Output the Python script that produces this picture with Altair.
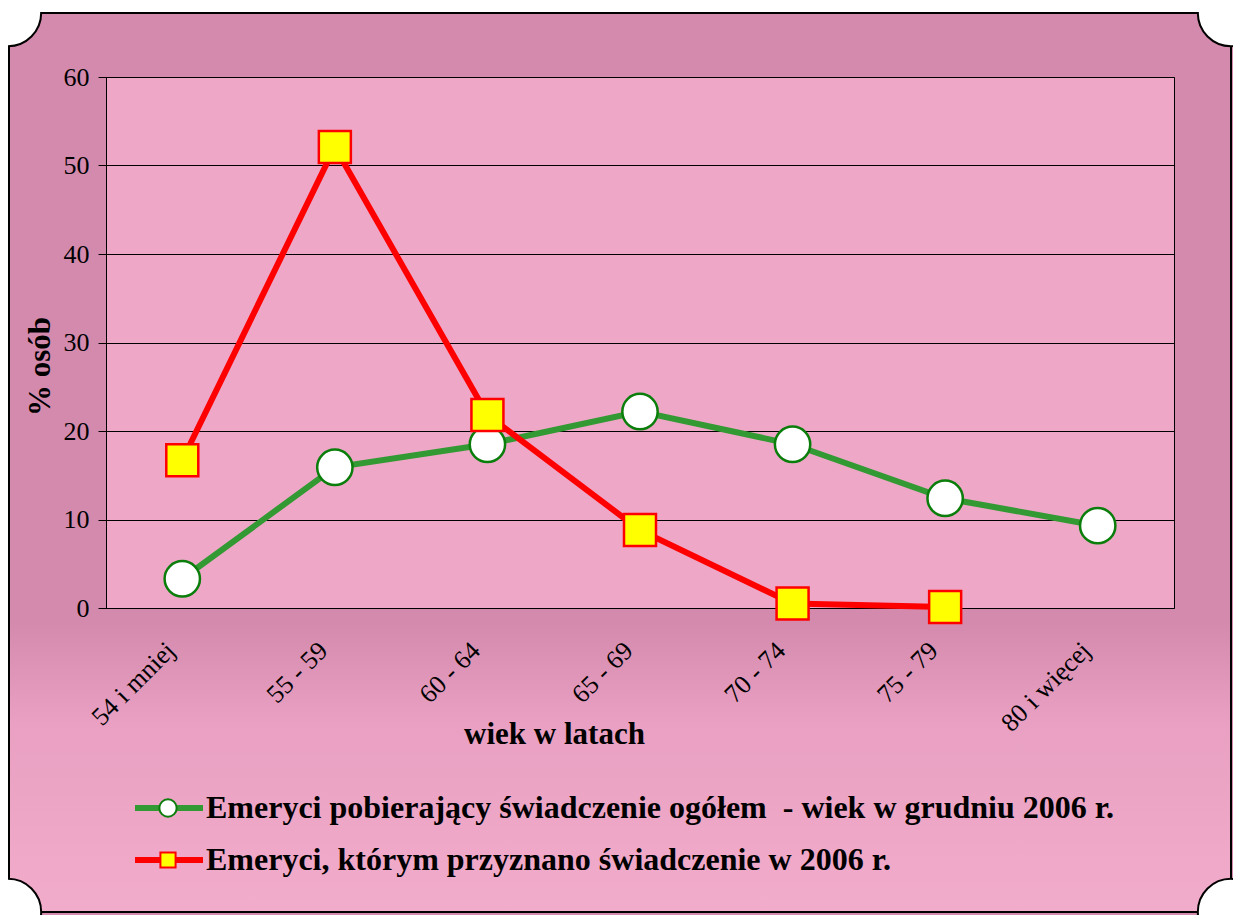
import altair as alt
import pandas as pd

# ---- data ----
categories = ["54 i mniej", "55 - 59", "60 - 64", "65 - 69", "70 - 74", "75 - 79", "80 i więcej"]
ogolem = [3.3, 15.9, 18.5, 22.2, 18.5, 12.4, 9.3]
przyznano = [16.7, 52.1, 21.8, 8.8, 0.5, 0.1, None]
series_labels = [
    "Emeryci pobierający świadczenie ogółem\u00a0 - wiek w grudniu 2006 r.",
    "Emeryci, którym przyznano świadczenie w 2006 r.",
]
series_keys = ["ogolem", "przyznano"]
y_ticks = [0, 10, 20, 30, 40, 50, 60]

rows = []
for c, v in zip(categories, ogolem):
    rows.append({"wiek": c, "proc": v, "seria": "ogolem"})
for c, v in zip(categories, przyznano):
    if v is not None:
        rows.append({"wiek": c, "proc": v, "seria": "przyznano"})
df = pd.DataFrame(rows)
legend_df = pd.DataFrame({"seria": series_keys, "label": series_labels})
one = pd.DataFrame({"k": [0]})

FONT = "Liberation Serif"
W, H = 1068, 531
PL, PT, PR, PB = 98, 69, 59, 307
BG = "#d48aad"

GREEN = "#339933"
GREEN_EDGE = "#0a7d0a"
RED = "#ff0000"
YELLOW = "#ffff00"

x_axis = alt.Axis(
    title="wiek w latach", labelAngle=-45, ticks=False, domain=False, zindex=1,
    labelFont=FONT, labelFontSize=26, labelColor="black", labelPadding=29, labelOffset=-21,
    titleFont=FONT, titleFontSize=31, titleFontWeight="bold", titleColor="black",
    titleX=448, titleY=126, titleAlign="center", titleBaseline="middle",
)
y_axis = alt.Axis(
    title="% osób", values=y_ticks, grid=True, gridColor="black", gridWidth=1,
    tickColor="black", tickSize=8, domainColor="black",
    labelFont=FONT, labelFontSize=26, labelColor="black", labelPadding=9,
    titleFont=FONT, titleFontSize=31, titleFontWeight="bold", titleColor="black",
    titleX=-66, titleY=289, titleAlign="center", titleBaseline="middle", titleAngle=-90,
)

xs = alt.Scale(type="point", padding=0.5)
ys = alt.Scale(domain=[0, 60], nice=False)

base = alt.Chart(df)
X = alt.X("wiek:N", sort=categories, scale=xs, axis=x_axis)
Y = alt.Y("proc:Q", scale=ys, axis=y_axis)

green_line = base.transform_filter(alt.datum.seria == "ogolem").mark_line(
    color=GREEN, strokeWidth=6).encode(x=X, y=Y)
green_pts = base.transform_filter(alt.datum.seria == "ogolem").mark_point(
    shape="circle", filled=True, fill="white", stroke=GREEN_EDGE, strokeWidth=2.5,
    size=1250, opacity=1).encode(x=X, y=Y)
red_line = base.transform_filter(alt.datum.seria == "przyznano").mark_line(
    color=RED, strokeWidth=6).encode(x=X, y=Y)
red_pts = base.transform_filter(alt.datum.seria == "przyznano").mark_point(
    shape="square", filled=True, fill=YELLOW, stroke=RED, strokeWidth=2.5,
    size=1024, opacity=1).encode(x=X, y=Y)

# ---- decorative frame (page coordinates relative to plot origin) ----
deco = alt.Chart(one)
FX0, FX1, FY0, FY1 = -PL, W + PR - 2, -64, H + PB - 3
bottom_band = deco.mark_rect(
    fill={"x1": 0, "y1": 0, "x2": 0, "y2": 1, "gradient": "linear",
          "stops": [{"offset": 0, "color": BG}, {"offset": 0.35, "color": "#e9a0c2"},
                    {"offset": 1, "color": "#f2accb"}]},
    stroke=None).encode(x=alt.value(FX0), x2=alt.value(FX1), y=alt.value(H + 14), y2=alt.value(FY1))
frame = deco.mark_rect(fill=None, stroke="black", strokeWidth=2).encode(
    x=alt.value(FX0 + 1), x2=alt.value(FX1), y=alt.value(FY0), y2=alt.value(FY1))
corners = []
for cx, cy in [(FX0, FY0), (FX1, FY0), (FX0, FY1), (FX1, FY1)]:
    corners.append(deco.mark_point(shape="circle", filled=True, fill="white", stroke="black",
                                   strokeWidth=2, size=4400, opacity=1).encode(
        x=alt.value(cx), y=alt.value(cy)))
top_strip = deco.mark_rect(fill="white", stroke=None).encode(
    x=alt.value(-PL), x2=alt.value(W + PR), y=alt.value(-PT), y2=alt.value(FY0 - 1))

# ---- legend ----
leg = alt.Chart(legend_df)
LX0, LX1, LMX, LTX = 29, 97, 62, 100
LY = {"ogolem": 731, "przyznano": 783}
leg_layers = []
for key, lc, shape, fill, stroke, sz in [
    ("ogolem", GREEN, "circle", "white", GREEN_EDGE, 300),
    ("przyznano", RED, "square", YELLOW, RED, 230),
]:
    f = leg.transform_filter(alt.datum.seria == key)
    leg_layers.append(f.mark_rule(color=lc, strokeWidth=6).encode(
        x=alt.value(LX0), x2=alt.value(LX1), y=alt.value(LY[key])))
    leg_layers.append(f.mark_point(shape=shape, filled=True, fill=fill, stroke=stroke,
                                   strokeWidth=2, size=sz, opacity=1).encode(
        x=alt.value(LMX), y=alt.value(LY[key])))
    leg_layers.append(f.mark_text(align="left", baseline="middle", font=FONT, fontSize=32,
                                  fontWeight="bold", color="black").encode(
        x=alt.value(LTX), y=alt.value(LY[key]), text="label:N"))

chart = alt.layer(
    green_line, bottom_band, frame, *corners, top_strip,
    green_pts, red_line, red_pts, *leg_layers,
).properties(
    width=W, height=H,
    padding={"left": PL, "top": PT, "right": PR, "bottom": PB},
    autosize=alt.AutoSizeParams(type="none"),
).configure(
    background=BG, font=FONT,
).configure_view(
    fill="#efa7c8", stroke="black", strokeWidth=1,
)

chart.save("out.html", embed_options={"renderer": "svg", "actions": False})
